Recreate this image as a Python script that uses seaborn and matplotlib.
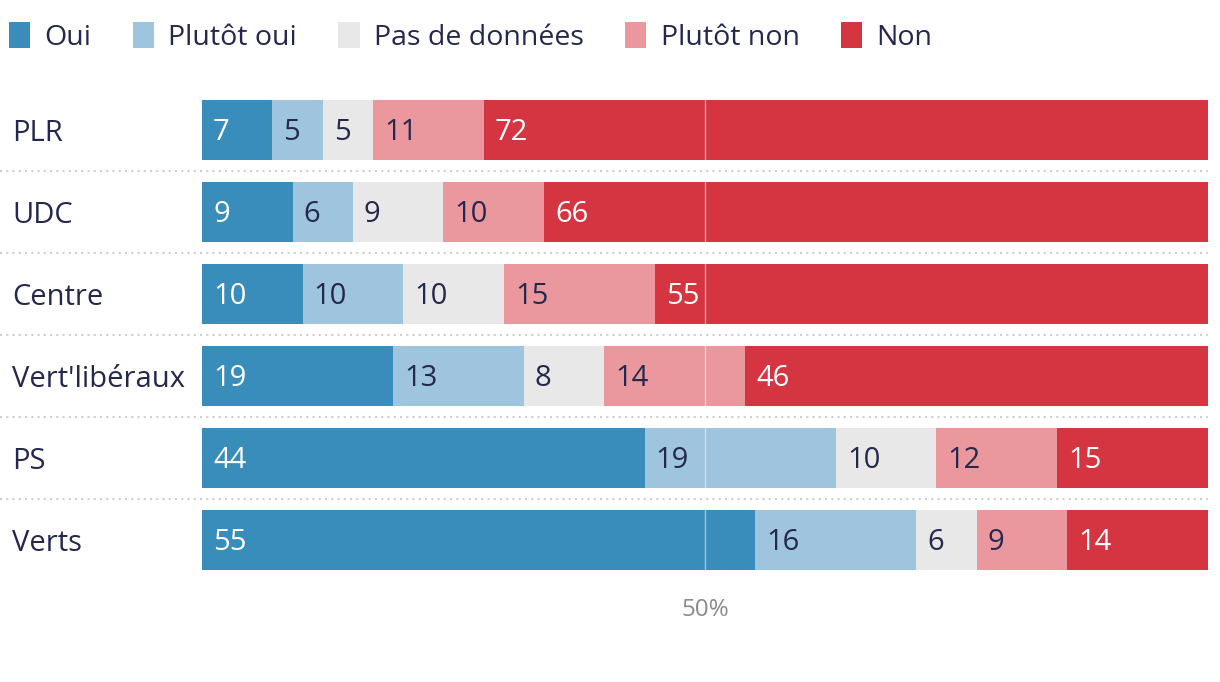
import numpy as np
import pandas as pd
import matplotlib.pyplot as plt
import seaborn as sns
from matplotlib.patches import Patch

# data
partis = ["PLR", "UDC", "Centre", "Vert'libéraux", "PS", "Verts"]
reponses = ["Oui", "Plutôt oui", "Pas de données", "Plutôt non", "Non"]
oui = [7, 9, 10, 19, 44, 55]
plutot_oui = [5, 6, 10, 13, 19, 16]
pas_de_donnees = [5, 9, 10, 8, 10, 6]
plutot_non = [11, 10, 15, 14, 12, 9]
non = [72, 66, 55, 46, 15, 14]

couleurs = ["#388dbb", "#9ec5dd", "#e8e8e8", "#ea989e", "#d43540"]
couleurs_texte = ["white", "#24284d", "#24284d", "#24284d", "white"]
navy = "#24284d"

df = pd.DataFrame({"parti": partis, "Oui": oui, "Plutôt oui": plutot_oui,
                   "Pas de données": pas_de_donnees, "Plutôt non": plutot_non, "Non": non})
cum = df[reponses].cumsum(axis=1)
starts = cum - df[reponses]

sns.set_style("white")
plt.rcParams["font.family"] = ["Open Sans", "DejaVu Sans"]

W, H = 1220, 682
fig = plt.figure(figsize=(12.2, 6.82), dpi=100)
ax = fig.add_axes([202 / W, 1 - 581 / H, 1006 / W, 492 / H])

# stacked bars: draw cumulative sums from the largest down
for rep, col in zip(reponses[::-1], couleurs[::-1]):
    sns.barplot(data=cum.assign(parti=df["parti"]), x=rep, y="parti", orient="h",
                color=col, width=60 / 82, saturation=1, ax=ax, linewidth=0)

# value labels
for i in range(len(partis)):
    for rep, tc in zip(reponses, couleurs_texte):
        ax.text(starts.loc[i, rep] + 1.1, i + 0.03, str(df.loc[i, rep]), color=tc,
                fontsize=21, va="center", ha="left")

ax.set_xlim(0, 100)
ax.set_ylim(5.5, -0.5)
ax.set_xlabel("")
ax.set_ylabel("")
ax.set_xticks([])
sns.despine(ax=ax, left=True, bottom=True)
ax.tick_params(axis="y", length=0, pad=(202 - 12) * 0.72, labelsize=21, labelcolor=navy)
for lab in ax.get_yticklabels():
    lab.set_horizontalalignment("left")

# 50% reference line and label
ax.axvline(50, color="white", alpha=0.5, lw=1)
ax.text(50, 5.5 + 29 / 82, "50%", color="#8a8a8a", fontsize=17.5, ha="center", va="center")

# dotted separators between rows
for i in range(len(partis) - 1):
    ax.plot([-202 / 1006 * 100, 100], [i + 0.5, i + 0.5], color="#cfcfcf",
            lw=1.5, ls=(0, (1, 2)), clip_on=False)

handles = [Patch(facecolor=c, edgecolor="none") for c in couleurs]
fig.legend(handles, reponses, loc="center left", bbox_to_anchor=(9 / W, 1 - 37 / H),
           ncol=5, frameon=False, fontsize=20.5, labelcolor=navy, borderpad=0,
           borderaxespad=0, handlelength=0.75, handleheight=1.0, handletextpad=0.5,
           columnspacing=1.45)

fig.savefig("out.png", dpi=100)
